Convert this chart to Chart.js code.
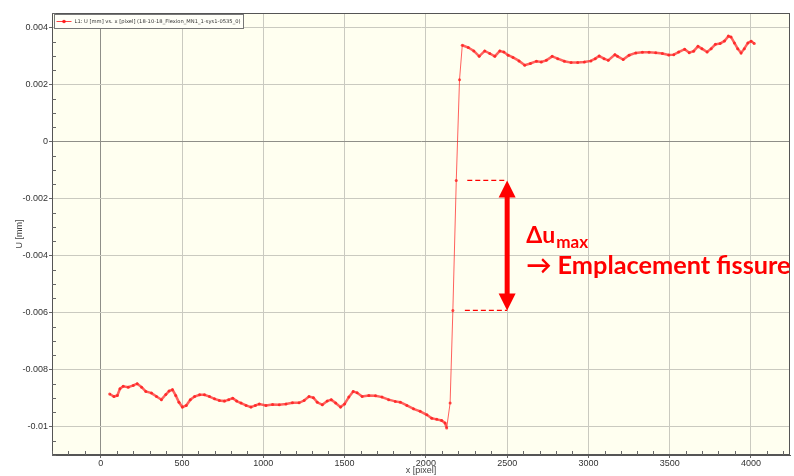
<!DOCTYPE html>
<html lang="fr">
<head>
<meta charset="utf-8">
<title>U [mm] vs. x [pixel]</title>
<script src="https://cdn.jsdelivr.net/npm/chart.js@4.4.1/dist/chart.umd.min.js"></script>
<style>
    html, body { margin: 0; padding: 0; background: #fff; }
    #wrap { position: relative; width: 794px; height: 476px; }
</style>
</head>
<body>
<div id="wrap"><canvas id="ct-chart"></canvas></div>
<script>
"use strict";

// profil de déplacement U le long de la ligne L1
const xPixel = [
    55, 81, 102, 118, 138, 169, 200, 224, 251, 277, 312, 343, 373, 400, 420, 441, 461, 481, 502, 526,
    551, 577, 608, 638, 669, 700, 730, 761, 787, 812, 836, 863, 894, 924, 951, 975, 1016, 1057, 1098, 1139,
    1179, 1220, 1251, 1281, 1308, 1332, 1363, 1393, 1418, 1445, 1475, 1500, 1526, 1553, 1577, 1608, 1649, 1690, 1730, 1771,
    1812, 1843, 1883, 1924, 1965, 2006, 2036, 2067, 2097, 2118, 2128, 2149, 2166, 2187, 2207, 2224, 2261, 2295, 2328, 2362,
    2393, 2424, 2455, 2480, 2506, 2536, 2573, 2608, 2643, 2680, 2710, 2741, 2777, 2811, 2852, 2893, 2934, 2975, 3015, 3042,
    3066, 3096, 3122, 3163, 3179, 3214, 3250, 3291, 3332, 3373, 3414, 3455, 3494, 3525, 3555, 3592, 3620, 3647, 3674, 3698,
    3730, 3755, 3781, 3810, 3837, 3861, 3877, 3898, 3918, 3939, 3959, 3981, 4001, 4020
];
const uMm = [
    -0.00886, -0.00895, -0.00891, -0.00868, -0.00859, -0.00862, -0.00856, -0.00850, -0.00862, -0.00877,
    -0.00883, -0.00895, -0.00906, -0.00888, -0.00876, -0.00871, -0.00891, -0.00915, -0.00932, -0.00926,
    -0.00906, -0.00895, -0.00889, -0.00889, -0.00895, -0.00903, -0.00909, -0.00911, -0.00906, -0.00901,
    -0.00911, -0.00918, -0.00926, -0.00932, -0.00926, -0.00921, -0.00926, -0.00923, -0.00924, -0.00921,
    -0.00917, -0.00917, -0.00909, -0.00895, -0.00899, -0.00915, -0.00924, -0.00911, -0.00906, -0.00918,
    -0.00932, -0.00921, -0.00897, -0.00877, -0.00882, -0.00895, -0.00891, -0.00892, -0.00897, -0.00906,
    -0.00912, -0.00915, -0.00926, -0.00938, -0.00947, -0.00959, -0.00971, -0.00975, -0.00979, -0.00988,
    -0.01005, -0.00918, -0.00593, -0.00137, 0.00216, 0.00337, 0.00329, 0.00317, 0.00298, 0.00317,
    0.00308, 0.00298, 0.00317, 0.00313, 0.00302, 0.00294, 0.00282, 0.00267, 0.00273, 0.00281,
    0.00278, 0.00284, 0.00298, 0.00290, 0.00281, 0.00276, 0.00276, 0.00278, 0.00282, 0.00290,
    0.00299, 0.00290, 0.00284, 0.00304, 0.00298, 0.00287, 0.00302, 0.00310, 0.00312, 0.00312,
    0.00311, 0.00308, 0.00303, 0.00304, 0.00313, 0.00323, 0.00311, 0.00316, 0.00333, 0.00325,
    0.00313, 0.00325, 0.00340, 0.00343, 0.00352, 0.00369, 0.00366, 0.00345, 0.00325, 0.00310,
    0.00325, 0.00345, 0.00351, 0.00343
];

const xTicks = [0, 500, 1000, 1500, 2000, 2500, 3000, 3500, 4000];
const yTicks = [-0.01, -0.008, -0.006, -0.004, -0.002, 0, 0.002, 0.004];

const serieLabel = "L1: U [mm] vs. x [pixel] (18-10-18_Flexion_MN1_1-sys1-0535_0)";
const xTitle = "x [pixel]";
const yTitle = "U [mm]";

// saut de U : les deux points du saut délimitent la flèche, placée à x = 2500
const iHaut = xPixel.indexOf(2187);
const iBas = xPixel.indexOf(2166);
const flecheX = 2500;
const texteDelta = "Δu";
const texteIndice = "max";
const texteFissure = "→ Emplacement fissure";

const rouge = "#ff0000";
const tickFont = { family: "'Liberation Sans', Arial, sans-serif", size: 9 };

// ligne de trait entre deux points
function trait(ctx, x1, y1, x2, y2) {
    ctx.beginPath();
    ctx.moveTo(x1, y1);
    ctx.lineTo(x2, y2);
    ctx.stroke();
}

// taille de police pour qu'un texte occupe une largeur donnée
function tailleAjustee(ctx, texte, largeur, style) {
    ctx.font = style.replace('{s}', '20px');
    return 20 * largeur / ctx.measureText(texte).width;
}

const fondTrace = {
    id: 'fondTrace',
    beforeDraw(chart) {
        const { ctx, chartArea: a } = chart;
        ctx.save();
        ctx.fillStyle = '#fffff0';
        ctx.fillRect(a.left, a.top, a.right - a.left, a.bottom - a.top);
        ctx.restore();
    }
};

// cadre + graduations secondaires vers l'intérieur
const cadre = {
    id: 'cadre',
    afterDraw(chart) {
        const { ctx, chartArea: a, scales } = chart;
        ctx.save();
        ctx.strokeStyle = '#555';
        ctx.lineWidth = 1;
        ctx.strokeRect(a.left + 0.5, a.top + 0.5, a.right - a.left - 1, a.bottom - a.top - 1);

        ctx.strokeStyle = '#666';
        for (let v = -300; v <= 4200; v += 100) {
            if (v % 500 === 0) continue;
            const px = Math.round(scales.x.getPixelForValue(v)) + 0.5;
            trait(ctx, px, a.bottom, px, a.bottom - 4);
        }
        for (let k = -22; k <= 9; k++) {
            if (k % 4 === 0) continue;
            const py = Math.round(scales.y.getPixelForValue(k * 0.0005)) + 0.5;
            trait(ctx, a.left, py, a.left + 4, py);
        }
        ctx.restore();
    }
};

// légende encadrée dans le coin haut gauche du tracé
const legendeCadre = {
    id: 'legendeCadre',
    afterDraw(chart) {
        const { ctx, chartArea: a } = chart;
        const style = "{s} 'DejaVu Sans', sans-serif";
        const taille = tailleAjustee(ctx, serieLabel, 166, style);
        const bx = a.left + 2.5, by = a.top + 1.5, bw = 189, bh = 14;
        ctx.save();
        ctx.fillStyle = '#fffff8';
        ctx.strokeStyle = '#777';
        ctx.lineWidth = 1;
        ctx.fillRect(bx, by, bw, bh);
        ctx.strokeRect(bx, by, bw, bh);
        const my = by + bh / 2;
        ctx.strokeStyle = 'rgba(255,20,20,0.8)';
        trait(ctx, bx + 2, my, bx + 17, my);
        ctx.fillStyle = 'rgba(255,20,20,0.9)';
        ctx.beginPath();
        ctx.arc(bx + 9.5, my, 1.8, 0, Math.PI * 2);
        ctx.fill();
        ctx.fillStyle = '#333';
        ctx.font = style.replace('{s}', taille.toFixed(2) + 'px');
        ctx.textBaseline = 'middle';
        ctx.fillText(serieLabel, bx + 20, my + 0.5);
        ctx.restore();
    }
};

// flèche Δu max entre les deux points du saut
const annotationFissure = {
    id: 'annotationFissure',
    afterDraw(chart) {
        const { ctx, scales } = chart;
        const px = scales.x.getPixelForValue(flecheX);
        const yH = scales.y.getPixelForValue(uMm[iHaut]);
        const yB = scales.y.getPixelForValue(uMm[iBas]);
        const xH = scales.x.getPixelForValue(xPixel[iHaut]);
        const xB = scales.x.getPixelForValue(xPixel[iBas]);
        ctx.save();
        ctx.strokeStyle = rouge;
        ctx.fillStyle = rouge;

        ctx.lineWidth = 1.2;
        ctx.setLineDash([5, 3]);
        trait(ctx, xH + 11, yH, px, yH);
        trait(ctx, xB + 12, yB, px, yB);
        ctx.setLineDash([]);

        ctx.lineWidth = 5;
        trait(ctx, px, yH + 14, px, yB - 14);
        ctx.beginPath();
        ctx.moveTo(px, yH);
        ctx.lineTo(px - 8.5, yH + 17);
        ctx.lineTo(px + 8.5, yH + 17);
        ctx.closePath();
        ctx.fill();
        ctx.beginPath();
        ctx.moveTo(px, yB);
        ctx.lineTo(px - 8.5, yB - 17);
        ctx.lineTo(px + 8.5, yB - 17);
        ctx.closePath();
        ctx.fill();

        const style = "bold {s} Lato, 'Open Sans', sans-serif";
        const tx = px + 19;
        let s = tailleAjustee(ctx, texteDelta, 29, style);
        ctx.font = style.replace('{s}', s.toFixed(1) + 'px');
        ctx.textBaseline = 'alphabetic';
        ctx.fillText(texteDelta, tx, yH + 63);
        const wDelta = ctx.measureText(texteDelta).width;
        s = tailleAjustee(ctx, texteIndice, 32, style);
        ctx.font = style.replace('{s}', s.toFixed(1) + 'px');
        ctx.fillText(texteIndice, tx + wDelta + 1, yH + 68);
        s = tailleAjustee(ctx, texteFissure, 265, style);
        ctx.font = style.replace('{s}', s.toFixed(1) + 'px');
        ctx.fillText(texteFissure, tx, yH + 94);
        ctx.restore();
    }
};

const points = xPixel.map((x, i) => ({ x: x, y: uMm[i] }));

const ctx = document.getElementById('ct-chart').getContext('2d');
const chartConfig = {
    type: 'line',
    data: {
        datasets: [{
            label: serieLabel,
            data: points,
            borderColor: 'rgba(255,30,30,0.7)',
            backgroundColor: 'rgba(255,30,30,0.7)',
            borderWidth: 2.5,
            pointRadius: 1.5,
            pointBorderWidth: 0,
            pointBackgroundColor: 'rgba(255,30,30,0.8)',
            tension: 0,
            segment: {
                // les segments du saut restent fins
                borderWidth: c => Math.abs(c.p1.y - c.p0.y) > 12 ? 1 : 2.5
            }
        }]
    },
    options: {
        responsive: true,
        maintainAspectRatio: false,
        animation: false,
        devicePixelRatio: 1,
        layout: {
            padding: { top: 13, right: 0, bottom: 0, left: 0 }
        },
        scales: {
            x: {
                type: 'linear',
                min: -300,
                max: 4240,
                afterBuildTicks: s => { s.ticks = xTicks.map(v => ({ value: v })); },
                afterFit: s => { s.height = 21; },
                ticks: {
                    font: tickFont,
                    color: '#333',
                    padding: 0,
                    maxRotation: 0,
                    autoSkip: false,
                    callback: v => String(v)
                },
                grid: {
                    color: c => c.tick && c.tick.value === 0 ? '#8f8f88' : '#cacac0',
                    tickLength: 3,
                    tickColor: '#666'
                },
                border: { color: '#555' },
                title: {
                    display: true,
                    text: xTitle,
                    font: tickFont,
                    color: '#444',
                    padding: { top: 0, bottom: 0 }
                }
            },
            y: {
                type: 'linear',
                min: -0.011,
                max: 0.0045,
                afterBuildTicks: s => { s.ticks = yTicks.map(v => ({ value: v })); },
                afterFit: s => { s.width = 52; },
                ticks: {
                    font: tickFont,
                    color: '#333',
                    padding: 1,
                    callback: v => String(+v.toFixed(4))
                },
                grid: {
                    color: c => c.tick && c.tick.value === 0 ? '#8f8f88' : '#cacac0',
                    tickLength: 3,
                    tickColor: '#666'
                },
                border: { color: '#555' },
                title: {
                    display: true,
                    text: yTitle,
                    font: tickFont,
                    color: '#444',
                    padding: { top: 14, bottom: 0 }
                }
            }
        },
        plugins: {
            legend: { display: false },
            tooltip: { enabled: false }
        }
    },
    plugins: [fondTrace, cadre, legendeCadre, annotationFissure]
};

new Chart(ctx, chartConfig);
</script>
</body>
</html>
